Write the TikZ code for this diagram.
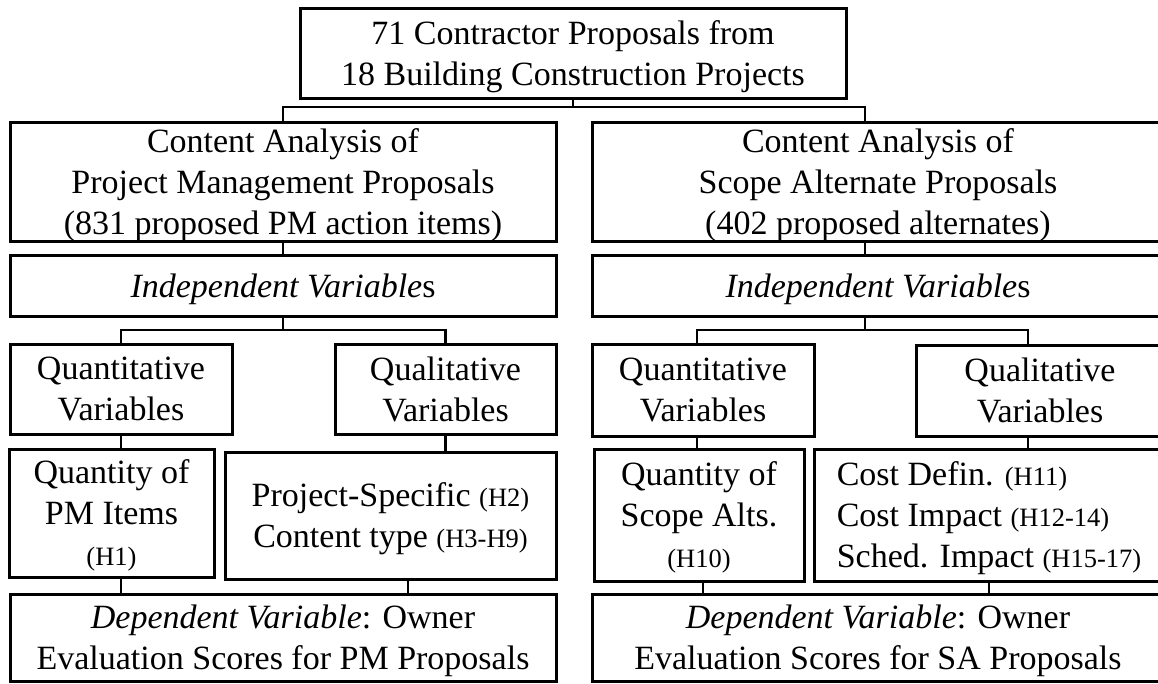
\documentclass[tikz,border=0pt]{standalone}
\usepackage{fontspec}
\setmainfont{Liberation Serif}
\usetikzlibrary{calc}
\newcommand\hsm[1]{{\fontsize{26.5}{30}\selectfont #1}}
\begin{document}
\begin{tikzpicture}[x=1pt,y=-1pt,
  box/.style={draw, line width=3pt, inner sep=0pt, align=center, text depth=0pt,
    font=\fontsize{34}{41}\selectfont},
  conn/.style={line width=2.8pt}]
\useasboundingbox (0,0) rectangle (1158,683);
\clip (0,0) rectangle (1158,683);
% boxes
\node[box, minimum width=546, minimum height=90] (top) at (573,53)
  {71 Contractor Proposals from\\18 Building Construction Projects};
\node[box, minimum width=546, minimum height=119] (pm) at (283,181.5)
  {Content Analysis of\\Project Management Proposals\\(831 proposed PM action items)};
\node[box, minimum width=572, minimum height=119] (sa) at (878,181.5)
  {Content Analysis of\\Scope Alternate Proposals\\(402 proposed alternates)};
\node[box, minimum width=546, minimum height=61] (ivl) at (283,285.5)
  {\textit{Independent Variable}s};
\node[box, minimum width=572, minimum height=61] (ivr) at (878,285.5)
  {\textit{Independent Variable}s};
\node[box, minimum width=222, minimum height=90] (qnl) at (121,389)
  {Quantitative\\Variables};
\node[box, minimum width=221, minimum height=90] (qll) at (445.5,389)
  {Qualitative\\Variables};
\node[box, minimum width=222, minimum height=92] (qnr) at (703,390)
  {Quantitative\\Variables};
\node[box, minimum width=248, minimum height=91] (qlr) at (1040,390.5)
  {Qualitative\\Variables};
\node[box, minimum width=205, minimum height=128] (qpm) at (111.5,513)
  {Quantity of\\PM Items\\\hsm{(H1)}};
\node[box, minimum width=331, minimum height=127] (ps) at (390.5,515.5)
  {Project-Specific \hsm{(H2)}\\Content type \hsm{(H3-H9)}};
\node[box, minimum width=210, minimum height=132] (qsc) at (699,515)
  {Quantity of\\Scope Alts.\\\hsm{(H10)}};
\node[box, minimum width=350, minimum height=132, align=left] (cost) at (989,515)
  {Cost Defin. \hsm{(H11)}\\Cost Impact \hsm{(H12-14)}\\Sched. Impact \hsm{(H15-17)}};
\node[box, minimum width=546, minimum height=87] (dl) at (283,637.5)
  {\textit{Dependent Variable}: Owner\\Evaluation Scores for PM Proposals};
\node[box, minimum width=572, minimum height=87] (dr) at (878,637.5)
  {\textit{Dependent Variable}: Owner\\Evaluation Scores for SA Proposals};
% junction and column coordinates
\coordinate (jt) at (573,107);
\coordinate (jl) at (283,330);
\coordinate (jr) at (865,330);
\coordinate (c121) at (121,0);
\coordinate (c408) at (408,0);
\coordinate (c697) at (697,0);
\coordinate (c703) at (703,0);
\coordinate (c865) at (865,0);
\coordinate (c989) at (989,0);
\coordinate (c1028) at (1028,0);
% connectors
\draw[conn] (top.south) -- (jt);
\draw[conn] (pm.north) |- (jt);
\draw[conn] (sa.north -| c865) |- (jt);
\draw[conn] (pm.south) -- (ivl.north);
\draw[conn] (sa.south -| c865) -- (ivr.north -| c865);
\draw[conn] (ivl.south) -- (jl);
\draw[conn] (qnl.north) |- (jl);
\draw[conn] (qll.north) |- (jl);
\draw[conn] (ivr.south -| c865) -- (jr);
\draw[conn] (qnr.north -| c697) |- (jr);
\draw[conn] (qlr.north -| c1028) |- (jr);
\draw[conn] (qnl.south) -- (qpm.north -| c121);
\draw[conn] (qll.south) -- (ps.north -| qll.south);
\draw[conn] (qnr.south -| c697) -- (qsc.north -| c697);
\draw[conn] (qlr.south -| c1028) -- (cost.north -| c1028);
\draw[conn] (qpm.south -| c121) -- (dl.north -| c121);
\draw[conn] (ps.south -| c408) -- (dl.north -| c408);
\draw[conn] (qsc.south -| c703) -- (dr.north -| c703);
\draw[conn] (cost.south -| c989) -- (dr.north -| c989);
\end{tikzpicture}
\end{document}
